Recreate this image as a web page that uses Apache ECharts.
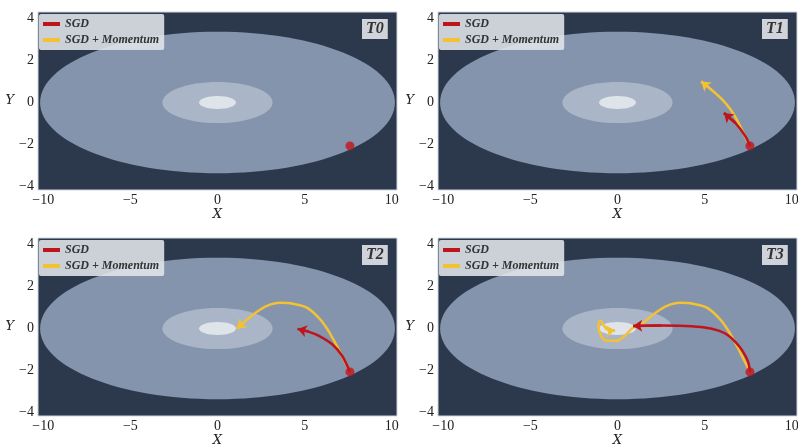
<!DOCTYPE html>
<html>
<head>
<meta charset="utf-8">
<script src="https://cdn.jsdelivr.net/npm/echarts@6/dist/echarts.min.js"></script>
<style>
html,body{margin:0;padding:0;background:#fff}
#main{width:798px;height:447px}
</style>
</head>
<body>
<div id="main"></div>
<script>
var panelNames = ['T0', 'T1', 'T2', 'T3'];
var xTicks = [-10, -5, 0, 5, 10];
var yTicks = [-4, -2, 0, 2, 4];

// contour ellipses (centre 0,0): half widths / half heights
var contourRx = [10.18, 3.16, 1.06];
var contourRy = [3.37, 0.98, 0.31];
var contourColor = ['#8594ad', '#aab5c8', '#dfe4eb'];

var startPoint = [7.6, -2.07];

// SGD path read for each snapshot
var sgdT0 = [];
var sgdT1 = [[7.6, -2.07], [7.36, -1.64], [6.78, -0.99], [6.11, -0.5]];
var sgdT2 = [[7.6, -2.07], [7.15, -1.3], [6.58, -0.75], [5.82, -0.35], [5.25, -0.16], [4.6, -0.02]];
var sgdT3 = [[7.6, -2.07], [7.5, -1.6], [7.2, -1.1], [6.8, -0.67], [6.3, -0.3], [5.8, -0.1],
             [5.0, 0.05], [3.9, 0.12], [2.5, 0.14], [0.9, 0.12]];

// SGD + Momentum path
var momT0 = [];
var momT1 = [[7.6, -2.07], [7.3, -1.6], [6.9, -0.9], [6.5, -0.35], [6.0, 0.15], [5.4, 0.6], [4.8, 1.0]];
var momT2 = [[7.6, -2.07], [7.2, -1.4], [6.63, -0.49], [6.28, 0.0], [5.88, 0.45], [5.13, 0.99],
             [4.33, 1.18], [3.59, 1.22], [2.84, 1.08], [2.27, 0.8], [1.75, 0.46], [1.29, 0.13], [1.1, 0.0]];
var momT3 = [[7.6, -2.07], [7.2, -1.4], [6.63, -0.49], [6.28, 0.0], [5.88, 0.45], [5.13, 0.99],
             [4.33, 1.18], [3.59, 1.22], [2.84, 1.08], [2.27, 0.8], [1.75, 0.46], [1.29, 0.13],
             [0.86, 0.02], [0.52, -0.27], [-0.05, -0.59], [-0.61, -0.59], [-0.99, -0.27],
             [-1.09, 0.21], [-0.99, 0.37], [-0.71, 0.05], [-0.43, -0.11], [-0.14, -0.08]];

var sgdPaths = [sgdT0, sgdT1, sgdT2, sgdT3];
var momPaths = [momT0, momT1, momT2, momT3];

var redColor = '#c0141c';
var yellowColor = '#f3c232';
var bgColor = '#2c394d';

var gridPos = [[38, 12], [438, 12], [38, 238], [438, 238]];

function tickFormatter(ticks) {
    return function (v) {
        for (var i = 0; i < ticks.length; i++) {
            if (Math.abs(ticks[i] - v) < 1e-6) return String(ticks[i]).replace('-', '\u2212');
        }
        return '';
    };
}

var chart = echarts.init(document.getElementById('main'));

var grids = [], xAxes = [], yAxes = [], legends = [], titles = [], series = [];

for (var i = 0; i < 4; i++) {
    grids.push({
        left: gridPos[i][0], top: gridPos[i][1], width: 359, height: 178,
        show: true, backgroundColor: bgColor, borderColor: '#cfd5dd', borderWidth: 1,
        containLabel: false, outerBoundsMode: 'none'
    });
    xAxes.push({
        type: 'value', gridIndex: i, min: -10.3, max: 10.3,
        name: 'X', nameLocation: 'middle', nameGap: 16,
        nameTextStyle: {fontFamily: 'DejaVu Serif', fontStyle: 'italic', fontSize: 13, color: '#222'},
        axisLine: {show: false}, axisTick: {show: false}, splitLine: {show: false},
        axisLabel: {formatter: tickFormatter(xTicks), margin: 3, color: '#222',
                    fontFamily: 'Liberation Serif', fontSize: 14}
    });
    yAxes.push({
        type: 'value', gridIndex: i, min: -4.17, max: 4.31,
        name: 'Y', nameLocation: 'middle', nameGap: 22, nameRotate: 0,
        nameTextStyle: {fontFamily: 'DejaVu Serif', fontStyle: 'italic', fontSize: 13, color: '#222'},
        axisLine: {show: false}, axisTick: {show: false}, splitLine: {show: false},
        axisLabel: {formatter: tickFormatter(yTicks), margin: 4, color: '#222',
                    fontFamily: 'Liberation Serif', fontSize: 14}
    });
    legends.push({
        left: gridPos[i][0] + 1, top: gridPos[i][1] + 2, orient: 'vertical',
        selectedMode: false,
        backgroundColor: 'rgba(226,229,234,0.88)', borderRadius: 2,
        padding: [4, 5, 4, 4], itemGap: 4, itemWidth: 17, itemHeight: 4,
        icon: 'rect',
        textStyle: {fontFamily: 'Liberation Serif', fontStyle: 'italic', fontWeight: 'bold',
                    fontSize: 12, color: '#333'},
        data: ['SGD', 'SGD + Momentum']
    });
    titles.push({
        text: panelNames[i], left: gridPos[i][0] + 324, top: gridPos[i][1] + 7,
        backgroundColor: 'rgba(222,225,230,0.92)', padding: [2, 4],
        textStyle: {fontFamily: 'Liberation Serif', fontStyle: 'italic', fontWeight: 'bold',
                    fontSize: 16, color: '#333'}
    });

    // contour ellipses
    series.push({
        type: 'custom', xAxisIndex: i, yAxisIndex: i, clip: true, silent: true,
        encode: {x: 0, y: 1},
        data: contourRx.map(function (rx, k) { return [0, 0, rx, contourRy[k], k]; }),
        renderItem: function (params, api) {
            var c = api.coord([api.value(0), api.value(1)]);
            var s = api.size([api.value(2), api.value(3)]);
            return {
                type: 'ellipse',
                shape: {cx: c[0], cy: c[1], rx: s[0], ry: s[1]},
                style: {fill: contourColor[api.value(4)]}
            };
        },
        z: 1
    });

    var paths = [[momPaths[i], 'SGD + Momentum', yellowColor, 4], [sgdPaths[i], 'SGD', redColor, 6]];
    paths.forEach(function (p) {
        var d = p[0];
        series.push({
            type: 'line', name: p[1], xAxisIndex: i, yAxisIndex: i,
            data: d, smooth: 0.3, showSymbol: false, symbol: 'none',
            itemStyle: {color: p[2]},
            lineStyle: {color: p[2], width: 2.5},
            z: p[3]
        });
        if (d.length > 1) {
            series.push({
                type: 'lines', coordinateSystem: 'cartesian2d', xAxisIndex: i, yAxisIndex: i,
                data: [{coords: [d[d.length - 2], d[d.length - 1]]}],
                symbol: ['none', 'arrow'], symbolSize: 9,
                lineStyle: {color: p[2], width: 2.5, opacity: 1},
                z: p[3]
            });
        }
    });

    series.push({
        type: 'scatter', xAxisIndex: i, yAxisIndex: i,
        data: [startPoint], symbolSize: 9,
        itemStyle: {color: redColor}, z: 7
    });
}

chart.setOption({
    animation: false,
    grid: grids,
    xAxis: xAxes,
    yAxis: yAxes,
    legend: legends,
    title: titles,
    series: series
});
</script>
</body>
</html>
